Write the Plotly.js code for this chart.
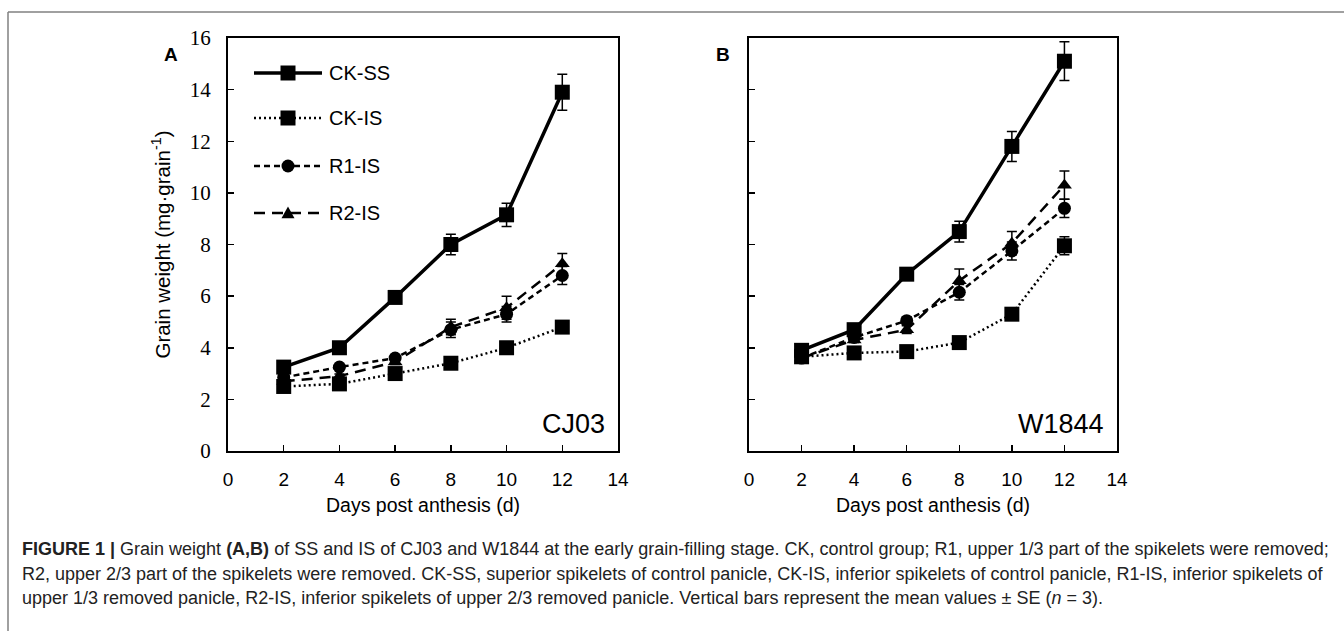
<!DOCTYPE html>
<html>
<head>
<meta charset="utf-8">
<script src="https://cdn.plot.ly/plotly-3.0.1.min.js"></script>
<style>
html,body{margin:0;padding:0;background:#fff;}
#chart{width:1344px;height:631px;}
</style>
</head>
<body>
<div id="chart"></div>
<script>
// ---- data ----
const days = [2, 4, 6, 8, 10, 12];
const seriesNames = ["CK-SS", "CK-IS", "R1-IS", "R2-IS"];

// Panel A: CJ03
const cj03_CKSS = [3.25, 4.0, 5.95, 8.0, 9.15, 13.9];
const cj03_CKSS_se = [0.12, 0.1, 0.1, 0.4, 0.45, 0.7];
const cj03_CKIS = [2.5, 2.6, 3.0, 3.4, 4.0, 4.8];
const cj03_CKIS_se = [0.05, 0.05, 0.08, 0.1, 0.1, 0.15];
const cj03_R1IS = [2.85, 3.25, 3.6, 4.7, 5.3, 6.8];
const cj03_R1IS_se = [0.08, 0.08, 0.1, 0.3, 0.3, 0.35];
const cj03_R2IS = [2.7, 2.9, 3.45, 4.8, 5.55, 7.25];
const cj03_R2IS_se = [0.08, 0.08, 0.1, 0.3, 0.45, 0.4];

// Panel B: W1844
const w1844_CKSS = [3.9, 4.7, 6.85, 8.5, 11.8, 15.1];
const w1844_CKSS_se = [0.15, 0.15, 0.2, 0.4, 0.58, 0.75];
const w1844_CKIS = [3.65, 3.8, 3.85, 4.2, 5.3, 7.95];
const w1844_CKIS_se = [0.08, 0.08, 0.1, 0.1, 0.15, 0.35];
const w1844_R1IS = [3.6, 4.4, 5.05, 6.15, 7.75, 9.4];
const w1844_R1IS_se = [0.08, 0.1, 0.15, 0.3, 0.35, 0.35];
const w1844_R2IS = [3.6, 4.3, 4.7, 6.6, 8.05, 10.3];
const w1844_R2IS_se = [0.08, 0.1, 0.15, 0.45, 0.45, 0.55];

const xTicks = [0, 2, 4, 6, 8, 10, 12, 14];
const yTicks = [0, 2, 4, 6, 8, 10, 12, 14, 16];
const xTitle = "Days post anthesis (d)";
const yTitle = "Grain weight (mg·grain<sup>-1</sup>)";
const captionLines = [
  "<b>FIGURE 1 |</b> Grain weight <b>(A,B)</b> of SS and IS of CJ03 and W1844 at the early grain-filling stage. CK, control group; R1, upper 1/3 part of the spikelets were removed;",
  "R2, upper 2/3 part of the spikelets were removed. CK-SS, superior spikelets of control panicle, CK-IS, inferior spikelets of control panicle, R1-IS, inferior spikelets of",
  "upper 1/3 removed panicle, R2-IS, inferior spikelets of upper 2/3 removed panicle. Vertical bars represent the mean values ± SE (<i>n</i> = 3)."
];

// ---- styles ----
const W = 1344, H = 631;
const SANS = "Liberation Sans, Arial, sans-serif";
const SERIF = "Liberation Serif, Times New Roman, serif";
const styles = {
  "CK-SS": {line: {color: "#000", width: 3.5, dash: "solid"}, marker: {symbol: "square", size: 15}},
  "CK-IS": {line: {color: "#000", width: 2.5, dash: "2px,3px"}, marker: {symbol: "square", size: 15}},
  "R1-IS": {line: {color: "#000", width: 2.5, dash: "6px,4px"}, marker: {symbol: "circle", size: 13}},
  "R2-IS": {line: {color: "#000", width: 2.5, dash: "11px,7px"}, marker: {symbol: "triangle-up", size: 13}}
};

function mk(name, y, se, xa, ya) {
  const s = styles[name];
  return {
    type: "scatter", mode: "lines+markers", name: name, x: days, y: y,
    xaxis: xa, yaxis: ya, showlegend: false,
    line: s.line, marker: {symbol: s.marker.symbol, size: s.marker.size, color: "#000"},
    error_y: {type: "data", array: se, visible: true, color: "#000", thickness: 1.5, width: 5}
  };
}

const traces = [
  mk("R2-IS", cj03_R2IS, cj03_R2IS_se, "x", "y"),
  mk("R1-IS", cj03_R1IS, cj03_R1IS_se, "x", "y"),
  mk("CK-IS", cj03_CKIS, cj03_CKIS_se, "x", "y"),
  mk("CK-SS", cj03_CKSS, cj03_CKSS_se, "x", "y"),
  mk("R2-IS", w1844_R2IS, w1844_R2IS_se, "x2", "y2"),
  mk("R1-IS", w1844_R1IS, w1844_R1IS_se, "x2", "y2"),
  mk("CK-IS", w1844_CKIS, w1844_CKIS_se, "x2", "y2"),
  mk("CK-SS", w1844_CKSS, w1844_CKSS_se, "x2", "y2")
];

const px = x => x / W;
const py = y => 1 - y / H;

const axBase = {
  range: [0, 14], tickvals: xTicks, ticks: "inside", ticklen: 6, tickwidth: 1.5, tickcolor: "#000",
  showline: true, linecolor: "#000", linewidth: 2, mirror: true, zeroline: false, showgrid: false,
  tickfont: {family: SANS, size: 19, color: "#000"}, ticklabelstandoff: 10,
  title: {text: xTitle, font: {family: SANS, size: 19.5, color: "#000"}, standoff: 10},
  fixedrange: true
};
const ayBase = {
  range: [0, 16], tickvals: yTicks, ticks: "inside", ticklen: 6, tickwidth: 1.5, tickcolor: "#000",
  showline: true, linecolor: "#000", linewidth: 2, mirror: true, zeroline: false, showgrid: false,
  tickfont: {family: SERIF, size: 21, color: "#000"}, ticklabelstandoff: 11,
  fixedrange: true
};

const plotTop = 38, plotBottom = 451;
const layout = {
  width: W, height: H,
  margin: {l: 0, r: 0, t: 0, b: 0},
  paper_bgcolor: "#fff", plot_bgcolor: "#fff",
  showlegend: false,
  xaxis: Object.assign({}, axBase, {domain: [px(228), px(618)], anchor: "y"}),
  yaxis: Object.assign({}, ayBase, {domain: [py(plotBottom), py(plotTop)], anchor: "x",
    title: {text: yTitle, font: {family: SANS, size: 20.5, color: "#000"}, standoff: 14}}),
  xaxis2: Object.assign({}, axBase, {domain: [px(749), px(1117)], anchor: "y2"}),
  yaxis2: Object.assign({}, ayBase, {domain: [py(plotBottom), py(plotTop)], anchor: "x2", showticklabels: false}),
  shapes: [],
  annotations: []
};

// figure frame (top and left rules)
layout.shapes.push({type: "line", xref: "paper", yref: "paper", x0: px(8), x1: 1, y0: py(12), y1: py(12), line: {color: "#808080", width: 1.5}});
layout.shapes.push({type: "line", xref: "paper", yref: "paper", x0: px(8), x1: px(8), y0: py(12), y1: 0, line: {color: "#808080", width: 1.5}});

// panel letters and cultivar labels
const labFont = {family: SANS, size: 20, color: "#000"};
layout.annotations.push({xref: "paper", yref: "paper", x: px(162), y: py(42), text: "<b>A</b>", showarrow: false, font: {family: SANS, size: 19, color: "#000"}});
layout.annotations.push({xref: "paper", yref: "paper", x: px(723), y: py(42), text: "<b>B</b>", showarrow: false, font: {family: SANS, size: 19, color: "#000"}});
layout.annotations.push({xref: "x", yref: "y", x: 13.6, y: 1.05, xanchor: "right", yanchor: "middle", text: "CJ03", showarrow: false, font: {family: SANS, size: 27, color: "#000"}});
layout.annotations.push({xref: "x2", yref: "y2", x: 13.6, y: 1.05, xanchor: "right", yanchor: "middle", text: "W1844", showarrow: false, font: {family: SANS, size: 27, color: "#000"}});

// manual legend in panel A
const legRows = [73, 118, 166, 213];
seriesNames.forEach((n, i) => {
  const s = styles[n];
  const yc = legRows[i];
  layout.shapes.push({type: "line", xref: "paper", yref: "paper", x0: px(254), x1: px(322), y0: py(yc), y1: py(yc),
    line: {color: "#000", width: s.line.width, dash: s.line.dash}});
  const cx = 288, h = s.marker.size / 2;
  if (s.marker.symbol === "square") {
    layout.shapes.push({type: "rect", xref: "paper", yref: "paper", x0: px(cx - h), x1: px(cx + h), y0: py(yc + h), y1: py(yc - h), fillcolor: "#000", line: {width: 0}});
  } else if (s.marker.symbol === "circle") {
    layout.shapes.push({type: "circle", xref: "paper", yref: "paper", x0: px(cx - h), x1: px(cx + h), y0: py(yc + h), y1: py(yc - h), fillcolor: "#000", line: {width: 0}});
  } else {
    layout.shapes.push({type: "path", xref: "paper", yref: "paper",
      path: `M ${px(cx - h)} ${py(yc + h * 0.8)} L ${px(cx + h)} ${py(yc + h * 0.8)} L ${px(cx)} ${py(yc - h)} Z`, fillcolor: "#000", line: {width: 0}});
  }
  layout.annotations.push({xref: "paper", yref: "paper", x: px(327), y: py(yc), xanchor: "left", yanchor: "middle", text: n, showarrow: false, font: labFont});
});

// caption
const capY = [549, 574, 598];
captionLines.forEach((t, i) => {
  layout.annotations.push({xref: "paper", yref: "paper", x: px(20), y: py(capY[i]), xanchor: "left", yanchor: "middle", text: t, showarrow: false, align: "left",
    font: {family: SANS, size: 18, color: "#222"}});
});

Plotly.newPlot("chart", traces, layout, {displayModeBar: false, staticPlot: true});
</script>
</body>
</html>
